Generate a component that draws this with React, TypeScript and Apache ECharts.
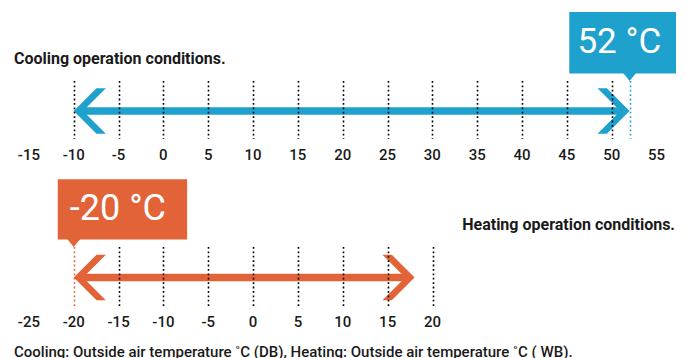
import React, { useEffect, useRef } from "react";
import * as echarts from "echarts";

// ---- data ----
const coolingAxisRange = [-15, 55];
const heatingAxisRange = [-25, 20];
const axisStep = 5;
const coolingSpan = [-10, 52];
const heatingSpan = [-20, 18];
const coolingGuides = [-10, -5, 0, 5, 10, 15, 20, 25, 30, 35, 40, 45, 50];
const heatingGuides = [-15, -10, -5, 0, 5, 10, 15, 20];
const coolingLimit = 52;
const heatingLimit = -20;
const coolingTitle = "Cooling operation conditions.";
const heatingTitle = "Heating operation conditions.";
const footerText =
  "Cooling: Outside air temperature \u02DAC (DB), Heating: Outside air temperature \u02DAC ( WB).";

const BLUE = "#1fa1cd";
const ORANGE = "#e26337";
const INK = "#1a1a1a";
const FONT = "Roboto, 'Noto Sans', sans-serif";

function arrowRender(color: string) {
  return (params: any, api: any) => {
    const a = api.coord([api.value(0), 0.5]);
    const b = api.coord([api.value(1), 0.5]);
    const cy = a[1] + 1;
    const l = a[0];
    const r = b[0];
    const th = 7.6;
    const o = 22.8;
    const k = 9.3;
    return {
      type: "group",
      children: [
        {
          type: "rect",
          shape: { x: l + 6, y: cy - th / 2, width: r - l - 12, height: th },
          style: { fill: color },
        },
        {
          type: "polygon",
          shape: {
            points: [
              [l, cy],
              [l + o, cy - o],
              [l + o + k, cy - o],
              [l + k, cy],
              [l + o + k, cy + o],
              [l + o, cy + o],
            ],
          },
          style: { fill: color },
        },
        {
          type: "polygon",
          shape: {
            points: [
              [r, cy],
              [r - o, cy - o],
              [r - o - k, cy - o],
              [r - k, cy],
              [r - o - k, cy + o],
              [r - o, cy + o],
            ],
          },
          style: { fill: color },
        },
      ],
    };
  };
}

function guideRender(color: string) {
  return (params: any, api: any) => {
    const t = api.coord([api.value(0), 1]);
    const bt = api.coord([api.value(0), 0]);
    const x = Math.round(t[0]) + 0.5;
    return {
      type: "line",
      shape: { x1: x, y1: t[1], x2: x, y2: bt[1] },
      style: { stroke: color, lineWidth: 1.6, lineDash: [1.8, 2.6] },
    };
  };
}

function calloutRender(
  color: string,
  leftOff: number,
  width: number,
  height: number,
  fontSize: number,
  textDx: number
) {
  return (params: any, api: any) => {
    const v = api.value(0);
    const p = api.coord([v, 1]);
    const px = p[0];
    const tipY = p[1];
    const boxBottom = tipY - 7.4;
    const boxTop = boxBottom - height;
    const left = px - leftOff;
    return {
      type: "group",
      children: [
        {
          type: "rect",
          shape: { x: left, y: boxTop, width, height },
          style: { fill: color },
        },
        {
          type: "polygon",
          shape: {
            points: [
              [px - 6.5, boxBottom - 0.5],
              [px + 6.5, boxBottom - 0.5],
              [px, tipY],
            ],
          },
          style: { fill: color },
        },
        {
          type: "text",
          style: {
            text: `${v} \u00B0C`,
            x: left + width / 2 + textDx,
            y: boxTop + height / 2 - 1,
            fill: "#ffffff",
            fontSize,
            fontFamily: FONT,
            fontWeight: 400,
            textAlign: "center",
            textVerticalAlign: "middle",
          },
        },
      ],
    };
  };
}

export default function App() {
  const ref = useRef<HTMLDivElement>(null);
  useEffect(() => {
    if (!ref.current) return;
    const chart = echarts.init(ref.current, undefined, { renderer: "svg" });
    const axisLabel = {
      color: INK,
      fontSize: 15,
      fontWeight: 500,
      fontFamily: FONT,
      margin: 8,
    };
    const xBase = {
      type: "value",
      interval: axisStep,
      axisLine: { show: false },
      axisTick: { show: false },
      splitLine: { show: false },
      axisLabel,
    };
    const yBase = {
      type: "value",
      min: 0,
      max: 1,
      show: false,
      splitLine: { show: false },
    };
    chart.setOption({
      animation: false,
      grid: [
        { left: 28.9, right: 30.5, top: 81, height: 58 },
        { left: 28.9, right: 254.5, top: 247, height: 59 },
      ],
      xAxis: [
        { ...xBase, gridIndex: 0, min: coolingAxisRange[0], max: coolingAxisRange[1] },
        { ...xBase, gridIndex: 1, min: heatingAxisRange[0], max: heatingAxisRange[1] },
      ],
      yAxis: [
        { ...yBase, gridIndex: 0 },
        { ...yBase, gridIndex: 1 },
      ],
      graphic: [
        {
          type: "text",
          left: 14,
          top: 50,
          style: {
            text: coolingTitle,
            fill: INK,
            font: `bold 16px ${FONT}`,
          },
        },
        {
          type: "text",
          right: 12,
          top: 216,
          style: {
            text: heatingTitle,
            fill: INK,
            font: `bold 16px ${FONT}`,
          },
        },
        {
          type: "text",
          left: 14,
          top: 344,
          style: {
            text: footerText,
            fill: INK,
            font: `500 15px ${FONT}`,
          },
        },
      ],
      series: [
        {
          type: "custom",
          xAxisIndex: 0,
          yAxisIndex: 0,
          z: 2,
          data: [[coolingSpan[0], coolingSpan[1]]],
          renderItem: arrowRender(BLUE),
        },
        {
          type: "custom",
          xAxisIndex: 1,
          yAxisIndex: 1,
          z: 2,
          data: [[heatingSpan[0], heatingSpan[1]]],
          renderItem: arrowRender(ORANGE),
        },
        {
          type: "custom",
          xAxisIndex: 0,
          yAxisIndex: 0,
          z: 3,
          data: coolingGuides.map((v) => [v, 0]),
          renderItem: guideRender("#000000"),
        },
        {
          type: "custom",
          xAxisIndex: 1,
          yAxisIndex: 1,
          z: 3,
          data: heatingGuides.map((v) => [v, 0]),
          renderItem: guideRender("#000000"),
        },
        {
          type: "custom",
          xAxisIndex: 0,
          yAxisIndex: 0,
          z: 3,
          data: [[coolingLimit, 0]],
          renderItem: guideRender(BLUE),
        },
        {
          type: "custom",
          xAxisIndex: 1,
          yAxisIndex: 1,
          z: 3,
          data: [[heatingLimit, 0]],
          renderItem: guideRender(ORANGE),
        },
        {
          type: "custom",
          xAxisIndex: 0,
          yAxisIndex: 0,
          z: 4,
          clip: false,
          data: [[coolingLimit, 1]],
          renderItem: calloutRender(BLUE, 60.3, 106.7, 61.7, 35, -3.3),
        },
        {
          type: "custom",
          xAxisIndex: 1,
          yAxisIndex: 1,
          z: 4,
          clip: false,
          data: [[heatingLimit, 1]],
          renderItem: calloutRender(ORANGE, 16, 129.4, 60.3, 36, -4.5),
        },
      ],
    });
    return () => chart.dispose();
  }, []);
  return (
    <div
      ref={ref}
      style={{ position: "fixed", left: 0, top: 0, width: 687, height: 358, background: "#fff" }}
    />
  );
}
